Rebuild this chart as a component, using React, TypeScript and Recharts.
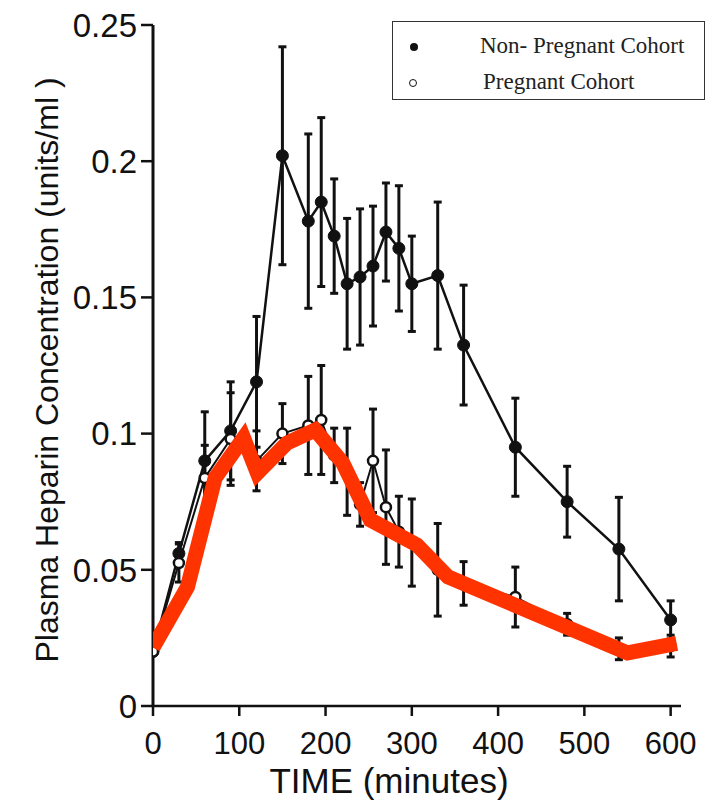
import { LineChart, Line, XAxis, YAxis, ErrorBar, Label } from 'recharts';

// sampling times (minutes)
const times = [0, 30, 60, 90, 120, 150, 180, 195, 210, 225, 240, 255, 270, 285, 300, 330, 360, 420, 480, 540, 600];

// Non-pregnant cohort (filled circles)
const nonPregnantValues = [0.02, 0.056, 0.09, 0.101, 0.119, 0.202, 0.178, 0.185, 0.1725, 0.155, 0.1575, 0.1615, 0.174, 0.168, 0.155, 0.158, 0.1325, 0.095, 0.075, 0.0576, 0.0316];
const nonPregnantErrors = [0, 0.004, 0.018, 0.018, 0.024, 0.04, 0.032, 0.031, 0.021, 0.024, 0.025, 0.022, 0.018, 0.023, 0.0175, 0.027, 0.022, 0.018, 0.013, 0.019, 0.007];

// Pregnant cohort (open circles)
const pregnantValues = [0.02, 0.0525, 0.0837, 0.098, 0.09, 0.1, 0.103, 0.105, 0.092, 0.086, 0.074, 0.09, 0.073, 0.064, 0.06, 0.05, 0.045, 0.04, 0.03, 0.021, 0.022];
const pregnantErrors = [0, 0.007, 0.012, 0.017, 0.011, 0.011, 0.018, 0.02, 0.01, 0.016, 0.008, 0.019, 0.021, 0.013, 0.016, 0.017, 0.008, 0.011, 0.004, 0.004, 0.004];

// red overlay trace
const redTimes = [0, 40, 72, 105, 121, 155, 188, 220, 252, 306, 342, 550, 607];
const redValues = [0.0215, 0.0437, 0.0837, 0.0984, 0.0855, 0.0965, 0.1013, 0.0892, 0.0683, 0.0591, 0.0474, 0.0195, 0.023];

const xTicks = [0, 100, 200, 300, 400, 500, 600];
const yTicks = [0, 0.05, 0.1, 0.15, 0.2, 0.25];

const nonPregnant = times.map((t, i) => ({ t, v: nonPregnantValues[i], err: nonPregnantErrors[i] }));
const pregnant = times.map((t, i) => ({ t, v: pregnantValues[i], err: pregnantErrors[i] }));
const redTrace = redTimes.map((t, i) => ({ t, v: redValues[i] }));

const X_DOMAIN = [0, 612];
const Y_DOMAIN = [0, 0.25];
const axisFont = '"Liberation Sans", Arial, Helvetica, sans-serif';

export default function App() {
  return (
    <div style={{ position: 'absolute', left: 0, top: 0, width: 721, height: 802, background: '#fff' }}>
      <LineChart width={721} height={802} margin={{ top: 25, right: 40, bottom: 0, left: 0 }}>
        <XAxis
          type="number"
          dataKey="t"
          domain={X_DOMAIN}
          ticks={xTicks}
          allowDataOverflow
          height={96}
          tickSize={10}
          tickMargin={16}
          axisLine={{ stroke: '#111', strokeWidth: 2.5 }}
          tickLine={{ stroke: '#111', strokeWidth: 2.5 }}
          tick={{ fill: '#111', fontSize: 31, fontFamily: axisFont }}
        >
          <Label
            content={() => (
              <text x={389} y={793} textAnchor="middle" fill="#111" fontSize={35} fontFamily={axisFont}>
                TIME (minutes)
              </text>
            )}
          />
        </XAxis>
        <YAxis
          type="number"
          domain={Y_DOMAIN}
          ticks={yTicks}
          width={153}
          tickSize={12}
          tickMargin={4}
          axisLine={{ stroke: '#111', strokeWidth: 3 }}
          tickLine={{ stroke: '#111', strokeWidth: 2.5 }}
          tick={{ fill: '#111', fontSize: 33, fontFamily: axisFont }}
        >
          <Label
            content={() => (
              <text
                x={47}
                y={370}
                transform="rotate(-90 47 370)"
                textAnchor="middle"
                dominantBaseline="central"
                fill="#111"
                fontSize={32}
                fontFamily={axisFont}
              >
                Plasma Heparin Concentration (units/ml )
              </text>
            )}
          />
        </YAxis>

        <Line
          data={nonPregnant}
          dataKey="v"
          stroke="#111"
          strokeWidth={2.5}
          dot={{ r: 6, fill: '#111', stroke: '#111', strokeWidth: 1 }}
          isAnimationActive={false}
        >
          <ErrorBar dataKey="err" direction="y" width={4} stroke="#111" strokeWidth={3} />
        </Line>
        <Line
          data={pregnant}
          dataKey="v"
          stroke="#111"
          strokeWidth={2}
          dot={{ r: 5, fill: '#fff', stroke: '#111', strokeWidth: 2.5 }}
          isAnimationActive={false}
        >
          <ErrorBar dataKey="err" direction="y" width={4} stroke="#111" strokeWidth={3} />
        </Line>
      </LineChart>

      {/* red trace sits above everything, same plot box */}
      <div style={{ position: 'absolute', left: 0, top: 0 }}>
        <LineChart width={721} height={802} margin={{ top: 25, right: 40, bottom: 96, left: 153 }}>
          <XAxis type="number" dataKey="t" domain={X_DOMAIN} allowDataOverflow hide />
          <YAxis type="number" domain={Y_DOMAIN} hide />
          <Line
            data={redTrace}
            dataKey="v"
            stroke="#ff3300"
            strokeWidth={15}
            strokeLinejoin="miter"
            dot={false}
            isAnimationActive={false}
          />
        </LineChart>
      </div>

      <div
        style={{
          position: 'absolute',
          left: 392,
          top: 21,
          width: 311,
          height: 77,
          border: '1.5px solid #333',
          background: '#fff',
          fontFamily: '"Liberation Serif", "Times New Roman", serif',
          fontSize: 23,
          color: '#222',
        }}
      >
        <div style={{ position: 'absolute', left: 17, top: 21, width: 8, height: 8, borderRadius: '50%', background: '#111' }} />
        <div style={{ position: 'absolute', left: 87, top: 11, whiteSpace: 'nowrap' }}>Non- Pregnant Cohort</div>
        <div
          style={{ position: 'absolute', left: 16, top: 57, width: 6, height: 6, borderRadius: '50%', border: '1.5px solid #111' }}
        />
        <div style={{ position: 'absolute', left: 90, top: 47, whiteSpace: 'nowrap' }}>Pregnant Cohort</div>
      </div>
    </div>
  );
}
